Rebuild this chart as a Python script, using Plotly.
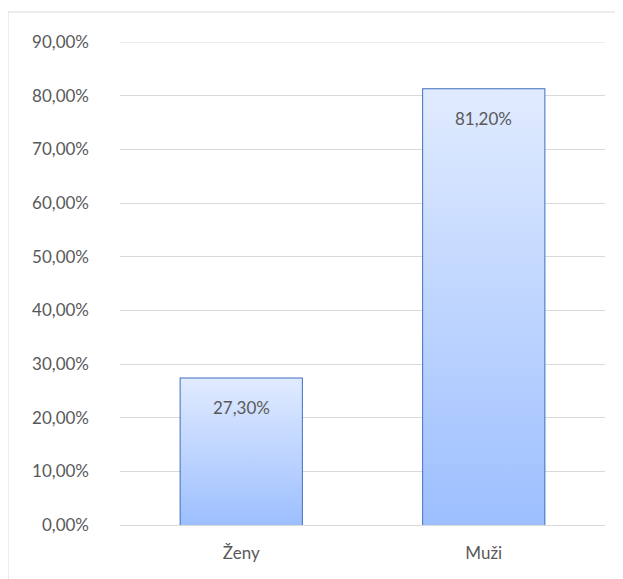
import plotly.graph_objects as go

categories = ["Ženy", "Muži"]
values = [0.273, 0.812]
y_ticks = [0, 0.1, 0.2, 0.3, 0.4, 0.5, 0.6, 0.7, 0.8, 0.9]

bar_width = 0.5
border_color = "#3F6EBF"
text_color = "#595959"
grid_color = "#D9D9D9"
font_family = "Lato, 'Open Sans', sans-serif"
fsize = 17

fig = go.Figure()

# gradient fills (drawn beneath the bar outlines)
for i, v in enumerate(values):
    x0, x1 = i - bar_width / 2, i + bar_width / 2
    fig.add_trace(go.Scatter(
        x=[x0, x1, x1, x0, x0],
        y=[0, 0, v, v, 0],
        mode="lines",
        line=dict(width=0),
        fill="toself",
        fillgradient=dict(
            type="vertical",
            colorscale=[[0, "#9DBFFF"], [1, "#E0EBFF"]],
        ),
        hoverinfo="skip",
        showlegend=False,
    ))

fig.add_trace(go.Bar(
    x=list(range(len(categories))),
    y=values,
    width=bar_width,
    marker=dict(color="rgba(0,0,0,0)", line=dict(color=border_color, width=2)),
    showlegend=False,
    hovertemplate="%{y:.2%}<extra></extra>",
))

for i, v in enumerate(values):
    fig.add_annotation(
        x=i, y=v, text=f"{v*100:.2f}%".replace(".", ","),
        showarrow=False, yanchor="top", yshift=-17,
        font=dict(size=fsize, color=text_color, family=font_family),
    )

fig.update_layout(
    width=623, height=579,
    margin=dict(l=112, r=26, t=34, b=62),
    paper_bgcolor="white", plot_bgcolor="white",
    separators=", ",
    font=dict(family=font_family, size=fsize, color=text_color),
    xaxis=dict(
        tickvals=list(range(len(categories))), ticktext=categories,
        range=[-0.5, len(categories) - 0.5],
        showgrid=False, zeroline=False, showline=False,
        ticks="", ticklabelstandoff=16,
        tickfont=dict(size=fsize, color=text_color),
    ),
    yaxis=dict(
        range=[0, y_ticks[-1]], tickvals=y_ticks, tickformat=".2%",
        showgrid=True, gridcolor=grid_color, gridwidth=1,
        zeroline=True, zerolinecolor=grid_color, zerolinewidth=1,
        showline=False, ticks="", ticklabelstandoff=30,
        tickfont=dict(size=fsize, color=text_color),
    ),
    shapes=[
        dict(
            type="rect", xref="paper", yref="paper",
            x0=-112 / 485, x1=1.2, y0=-0.3, y1=1 + 30 / 483,
            line=dict(color=grid_color, width=1), layer="below",
        ),
        dict(
            type="line", xref="paper", yref="y",
            x0=0, x1=1, y0=y_ticks[-1], y1=y_ticks[-1],
            line=dict(color=grid_color, width=1), layer="below",
        ),
    ],
)

fig.write_html("out.html")
